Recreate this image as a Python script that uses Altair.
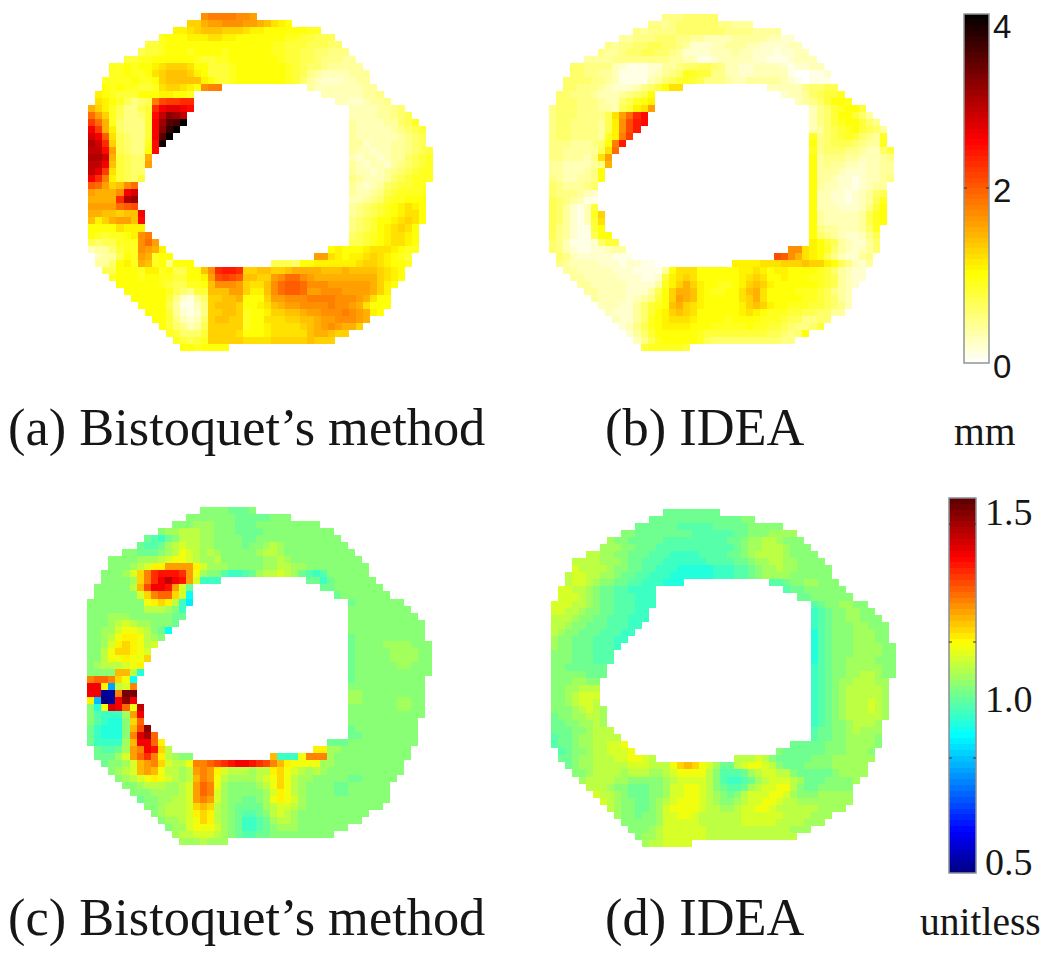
import altair as alt
import pandas as pd

# Level alphabet: position in this string = colour level (0..40)
ALPHABET = "0123456789abcdefghijklmnopqrstuvwxyzABCDE"

# Shared ring mask in grid cells, per row
OUTER_L = [16,14,12,10,8,7,5,3,3,2,2,1,1]+[0]*21+[1,1,2,3,4,5,6,7,8,9,10,11,12,13]
OUTER_R = [23,28,32,34,35,36,37,38,39,39,40,41,42,44,45,46,47,47,47,48,48,48,48,48,47,47,47,47,47,47,46,46,46,46,45,45,44,44,43,42,42,42,41,39,38,36,34,19]
HOLE_L = {10:19,11:15,12:15,13:15,14:14,15:14,16:13,17:12,18:11,19:10,20:9,21:9,22:8,23:8,24:7,25:7,26:7,27:7,28:8,29:8,30:8,31:9,32:10,33:11,34:12,35:15}
HOLE_R = {10:31,11:33,12:35,33:34,34:32,35:26}

PANEL_A = [
"hiiiihhg","ddfgghhhggfecba","bbcdeeedddcbbaaaaaa99","9aaabbbccbbaaaaaaa9988777",
"889aaaaaaaaaaaaaaa9988877766","7889aaa9aaaa9aaaaaa99887766555","8899aaaaaa98899aaaaaaa98877655544",
"99a9aabcdddcaa8889aaaaaaa98766544444","99a99acdeeedba8889aaaaaaa987543333444",
"9999a99adeeeeeba889aaaaaaa986432223344",
"a9a99889cddcbahii|4333333344","ba9888aaabbaa9|333333445","cba97567ilmmnn|33223445","fdb975578nqrrqp|33334456",
"jgd975568ptwvt|333344567","mjf965558qvzAE|4333344679","qmfb65558qwBE|43333345678","sqkc76558qzE|43333334567",
"usnd76559pD|44233344567","ttpg7655ap|433233445678","uusf8766f|323323446789","ttqe8766g|432332456789",
"trmc8766|433234567899","qnib8768|543334678999","kjgdehj|43234678899","gfffhqs|43345789999",
"ffffnuv|33456899aaa","ggggjkl|456789abcba","ffeedeeq|456789abcca","ebdfggep|5678aabcdca",
"aaaacbbb|5678abcdca","a9899abhi|6789abccba","7677999hjg|7789abccba","3446899hgfb|abaaabcccba99",
"3447a9gf9aa|ggcbabbcdcba98","446ab9fe9a5aaa|7776aabbbbbbcddcbaa9",
"77aaa9bb9a77aaehnoonddeeddeffffeeefeeeedcba",
"9aaa9aa9988aabglmlkeeddghjjhgfffffffffdcba",
"aaaaaa987799aehhhgdccehjkkjhhhggggggfdba",
"aaaaaa976588eeeggdbbehjkkjgghhhggggfdba",
"aaaaa852146ddeefaaadgghhhiiiihhhgfcaa",
"aaaa741135deeedaabcefgghhhhihhgfcaa",
"aaa842125ddeed9aabddeefgghhhihgfba",
"aa853236deedd9aacccddeefgghhhgfc",
"a865347ddddd9aabccccdefghgffd",
"986668ddddcaaabccccceffedd",
"98789dddddccccdddddeddd",
"aa9aaaa",
]

PANEL_B = [
"55566666","554566666655444","545555666666655554444","4455566655443333444443322",
"5455667766542223344433222233","544566776654222233343322212233","444455555555443311233333221112333",
"665555321112244566776533223333212233","6655443111123456998855332233333100112",
"666655431111346789875554334444432101",
"66555432223568acc|3333356677","6655543334567a|233467889","666555433679ab|34568aa9","566655544378bcg|35689aa8",
"566655557cgjnp|3568aa864","566555547bhlop|35689aa865","566555547bhlo|346789a8764","566555549bim|95678986549",
"55544456aio|a5677765449","55444447cj|956665543368","5544435cg|a45554433345","44333345f|a45443323344",
"4433345a|a44432223344","5433445a|a44322123345","6544456|a4332212344","6555432|a3322123467",
"7654311|a3322123479","7642138|a333222358a","7642139d|a433333479a","7642138c|a433333479a",
"7542118a|a544333469","7542117aa|a654322357","6531112688|ba87432246","65321122344|hhcba96432346",
"65322222111|lkhfcba7532245","54333322212211|bbbbcccdddeddba75324",
"443333322211114acccaaaaaabbcbabbaaaa9864322",
"44333332221128bcdcaaaaaabcdcaabaaa99874322",
"4433333222249bdfdbaa99abdedbaaaaaa987432",
"44333322247adffeba99aacefcaaaa99987543",
"4333323458adgfebaaaaacdfcaaaaa9987643",
"333224689aefdcbaaaaabdedbaa9998876533",
"3222468abdedcaaaaaabcba99988776644",
"322469abcccbaaaa9aaaa9998775566",
"23579abbbbaaa99999a9988765568",
"2468aaaaaa988888888877656a",
"3579aaaaa97666666666655",
"8999998",
]

PANEL_C = [
"kkkkjjjk","kkkkkkkjjjjjkkk","kkklllkkkjjjkkkkkkkkk","kllmmmllkkkjjjjkkkkkkkkkk",
"jihjkmmmllkkkkjjkkkkkkkkkkkk","jiijlmnmmllkkkkjkklmlkkkkkkkkk","kkjjjklmonmlmlkkkkklmmlkkkkkkkkkk",
"kkkklllmnoonmllmkkkkkkllmlkkkkkkkkkk","kkklmnppsssspnlllkkkkkllmmllkkkkkkkkk",
"kkklnqtwxxxwsolkkihhijlmmnmljihikkkkkk",
"kkkklqtwyAyxsnhhh|jjhjkkkkkk","kkkkkmrvyyxsnj|jjkkkkkkk","kkkkkknqtuuqnf|jkkkkkkk","kkkkkkkkopqpmhe|jkkkkkkk",
"kkkkkkkkmmmlkh|kkkkkkkkk","kkklllkkkkkkjj|kkkkkkkkkk","kkklmnmllkkkj|kkkkkkkkkkk","kkllnoonmkjf|kkkkkkkkkkk",
"kklmoppomlk|jkkkkkkkkkk","kklnpqpomn|jkkkkllllkkk","kkmoqqpon|jkkkkkllllkk","kkmoopooq|jkkkkkllllkk",
"klmmmnop|jkkkkkkllkkk","kkkkrrmg|jkkkkkkkkkkk","tuutqof|jkkkkkkkkkk","yypbmnt|kkkkkkkkkkk",
"yy11tDD|llkkkkkkkkk","pc01yCy|llkkkkkllkk","kgozyuoA|kkkkkkkllkk","kihhhlsy|kkkkkkkkkkk",
"kihggkqu|kkkkkkkkkk","jhgggkrvC|jkkkkkkkkk","jhgggktzBu|jjkkkkkkkk","jhhhhlryyup|jjjkkkkkkkkkk",
"jiijlstyxqm|ppllkkkkkkkkkk","jjjlnsuwtpmlkk|rhhhotttlkkkkkkkkkkk",
"jkklnrstqnmmottuvwxyyxwvtrpoooollkkkkkkkkkk",
"klmnrsrommlmstspnmmmlmmpqonmlmlkkkkkkkkkkk",
"klmnoponmlmrtsomllllmnoqomllkkkkkjjkkkkk",
"kklmmmllmnsutolkkkklmoqomlkkkkjjkkkkkk",
"kkkllllmnsutnlkkkkklnpomlkkkkjjkkkkkk",
"jkkllmmnstsnlkkjjkloponlkkkkkkkkkkkk",
"kklmmmnqrqmlkjjjjlmnnmlkkkkkkkkkkk",
"klmmmnpqpmlkjiijkmnmlkkkkkkkkkk",
"kllmnoqpmlkjhhijlmmlkkkkkkkkk",
"kllnooonlkjhhijklllkkkkkkk",
"lmmnnnmlkjiijjkkkkkkkkk",
"lllmlll",
]

PANEL_D = [
"jjjjjjjj","jjjjjjjjjjjjjkk","jjjjjjiiiiijjjjjkkkkk","kkjjjjjjjjiiiiiijjkkkllll",
"lkkjjjjjiiiiiiiiijjkllmmlkkk","lllkkjjjiiiiiiiiiiijkllmmmlkkk","mmllkkjjjiiihhhhiiiijjklmmmmlkkkk",
"mmmmlllkjjiiihhhhhhiiiijjkllmmllkkkk","nmmmmlkkjjiihhhggggghhhiijkllmllkkkkk",
"mnnmmllkjjiihhhgggggghhhiijkllllkkkkkk",
"mnnmlkkjjiihhhggg|iijkkllkkk","nnmmlkjjiihhhh|ijjkkkkkk","nnnmlkjjiiihhh|jjkkkkkk","nnnmmlkjjiiihhh|ijkkllkk",
"nnmmlkkjjiiihh|hijkkllkk","mmmlkkjjiiihhh|hijkkllkkk","mmlkkjjjiiihh|hijkkkllkkk","mlkkjjjiiihh|gijkkklllkk",
"lkkjjjiiihh|gijkkklllkk","lkkjjjiiih|gijkkkllllkk","kkkjjjiii|gijkkkllllkk","kkkjjjiii|gijkkllllkkk",
"kkjjjjjj|hijkklllllkk","kkkkkjjj|hijkkllmmlkk","kkkllkk|hijkllmmmll","kkllmmm|hijklmmmmml",
"kklmnnn|hijklmmmmml","kklmnnm|hijklmmmnml","kkklmnml|hijklmmmnml","jkkllmml|hijklmmmmml",
"jjkkllml|hijkklmmml","jjjkklmmm|ijjkklmlll","ijjkllmmmm|ijjkkllllk","ijjkllmmnno|jjjjjkkkllllk",
"ijkklmmnnno|kjjjjjjkkklllk","jjkllmmmnnoonm|mmnmkjjjjjkkkllllll",
"jkllmmmmmnnnmmmoqrqonljjmnoonmkjjjkkkklllll",
"kklmmmmlmmmllmnoooomkiiijlmnnmmkjjjjjklll",
"lmmmmllkkkkklmnnnnmkihhijlmnnnmljjjkkkkl",
"mmmlkkjjjkklnnoonmkjiijlmnnoomkjjkkkkk",
"nmmlkjjjkklnnoonmlkjkmnnnoonlkkkllll",
"nmlkkjjklmnooonmlkklmnnoonmmlllllllll",
"mlkkjjklnoooonmmllmnnoonmmmmmmlll",
"lkkjkklnnoonmmmmmmnnnnnnmmmmll",
"kkkkklnnnnnmmmmmmnnnnnmmmmlll",
"kkklmnnnnnnmmmmmmmmmmmmlll",
"kllmnnnnnnmmmmmmmmmmmmm",
"lmmnnnn",
]

CAPTIONS = ["(a) Bistoquet\u2019s method", "(b) IDEA", "(c) Bistoquet\u2019s method", "(d) IDEA"]
UNITS = ["mm", "unitless"]
HOT_TICKS = [0, 2, 4]
JET_TICKS = ["0.5", "1.0", "1.5"]

HOT_DOMAIN = [0, 1.03, 2.55, 4]
HOT_RANGE = ["#ffffff", "#ffff00", "#ff0000", "#000000"]
JET_DOMAIN = [0.5, 0.61, 0.867, 1.114, 1.34, 1.5]
JET_RANGE = ["#00007f", "#0000ff", "#00ffff", "#ffff00", "#ff0000", "#5a0000"]

M = 8  # page margin
W, H = 1034, 938
CELL = 7.04
X = alt.X("x:Q", scale=alt.Scale(domain=[0, W], range=[0, W], nice=False, zero=False), axis=None)
Y = alt.Y("y:Q", scale=alt.Scale(domain=[0, H], range=[0, H], nice=False, zero=False), axis=None)


def fit_l(s, n):
    return (s + s[-1] * n)[:n]


def fit_r(s, n):
    return (s[0] * n + s)[-n:] if n > 0 else ""


def decode(rows, x0, y0, lo, hi):
    out = []
    for r, s in enumerate(rows):
        L, R = OUTER_L[r], OUTER_R[r]
        if "|" in s:
            a, b = s.split("|")
            hl = HOLE_L[r]
            hr = HOLE_R.get(r, 37)
            cells = list(zip(range(L, hl), fit_l(a, hl - L))) + list(zip(range(hr, R + 1), fit_r(b, R - hr + 1)))
        else:
            cells = list(zip(range(L, R + 1), fit_l(s, R - L + 1)))
        for c, ch in cells:
            out.append({
                "x": round(x0 + CELL * c) - M, "x2": round(x0 + CELL * (c + 1)) - M,
                "y": round(y0 + CELL * r) - M, "y2": round(y0 + CELL * (r + 1)) - M,
                "v": lo + (hi - lo) * ALPHABET.index(ch) / 40,
            })
    return pd.DataFrame(out)


def heat(df, domain, rng):
    return alt.Chart(df).mark_rect(strokeWidth=0).encode(
        x=X, x2="x2:Q", y=Y, y2="y2:Q",
        color=alt.Color("v:Q", scale=alt.Scale(domain=domain, range=rng, interpolate="rgb"), legend=None),
    )


def bar_frame(x0, x1, y0, y1, lo, hi, n=64):
    rows = []
    for k in range(n):
        rows.append({
            "x": x0 - M, "x2": x1 - M,
            "y": round(y1 - (y1 - y0) * (k + 1) / n) - M, "y2": round(y1 - (y1 - y0) * k / n) - M,
            "v": lo + (hi - lo) * (k + 0.5) / n,
        })
    return pd.DataFrame(rows)


def text(rows, font, size, color="#161616"):
    df = pd.DataFrame([{"x": x - M, "y": y - M, "t": t} for x, y, t in rows])
    return alt.Chart(df).mark_text(font=font, fontSize=size, align="left", baseline="alphabetic", color=color).encode(
        x=X, y=Y, text="t:N")


def frame(x0, x1, y0, y1, color):
    df = pd.DataFrame([{"x": x0 - M, "x2": x1 - M, "y": y0 - M, "y2": y1 - M}])
    return alt.Chart(df).mark_rect(fillOpacity=0, stroke=color, strokeWidth=1.5).encode(x=X, x2="x2:Q", y=Y, y2="y2:Q")


def ticks(x0, x1, ys, length=3):
    rows = []
    for y in ys:
        rows.append({"x": x0 - M, "x2": x0 + length - M, "y": y - M})
        rows.append({"x": x1 - length - M, "x2": x1 - M, "y": y - M})
    return alt.Chart(pd.DataFrame(rows)).mark_rule(color="#333333", strokeWidth=1).encode(x=X, x2="x2:Q", y=Y)


layers = [
    heat(decode(PANEL_A, 88.3, 13.3, 0, 4), HOT_DOMAIN, HOT_RANGE),
    heat(decode(PANEL_B, 549, 13.5, 0, 4), HOT_DOMAIN, HOT_RANGE),
    heat(decode(PANEL_C, 87.3, 507, 0.5, 1.5), JET_DOMAIN, JET_RANGE),
    heat(decode(PANEL_D, 550.7, 509, 0.5, 1.5), JET_DOMAIN, JET_RANGE),
    heat(bar_frame(964, 989, 14, 363, 0, 4), HOT_DOMAIN, HOT_RANGE),
    heat(bar_frame(949, 976, 498, 873, 0.5, 1.5), JET_DOMAIN, JET_RANGE),
    frame(964, 989, 14, 363, "#8f9598"),
    frame(949, 976, 498, 873, "#8a8f9a"),
    ticks(964, 989, [188]),
    ticks(949, 976, [524, 642, 758]),
    text([(8, 445, CAPTIONS[0]), (605, 445, CAPTIONS[1]), (8, 935, CAPTIONS[2]), (605, 935, CAPTIONS[3])], "Liberation Serif", 52.4),
    text([(954, 445, UNITS[0]), (920, 935, UNITS[1])], "Liberation Serif", 39.5),
    text([(993, 38, str(HOT_TICKS[2])), (993, 202, str(HOT_TICKS[1])), (993, 378, str(HOT_TICKS[0]))], "Liberation Sans", 33),
    text([(985, 525, JET_TICKS[2]), (985, 712, JET_TICKS[1]), (985, 875, JET_TICKS[0])], "Liberation Serif", 38),
]

chart = alt.layer(*layers).resolve_scale(color="independent").properties(
    width=W, height=H, padding=0, autosize=alt.AutoSizeParams(type="none"),
).configure_view(stroke=None)

chart.save("out.html", embed_options={"renderer": "svg", "actions": False})
